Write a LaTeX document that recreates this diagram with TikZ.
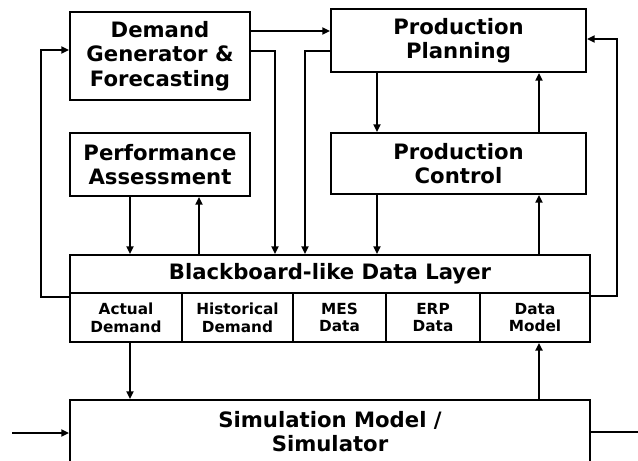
\documentclass[tikz,border=0pt]{standalone}
\usepackage{fontspec}
\setmainfont{DejaVu Sans}
\usetikzlibrary{arrows.meta}
\begin{document}
\begin{tikzpicture}[x=1pt,y=-1pt,
 box/.style={draw,line width=2.2pt,rectangle,inner sep=0pt,align=center,font=\bfseries\fontsize{21.2}{24.5}\selectfont},
 cell/.style={draw,line width=2pt,rectangle,inner sep=0pt,align=center,font=\bfseries\fontsize{15.3}{17.8}\selectfont},
 arr/.style={line width=1.7pt,-{Triangle[length=7.5pt,width=7pt]}},
 ln/.style={line width=1.7pt}]
\useasboundingbox (0,0) rectangle (638,461);
\fill[white] (0,0) rectangle (638,461);
% nodes
\node[box,minimum width=180pt,minimum height=88pt] (Demand) at (160,56) {Demand\\Generator \&\\Forecasting};
\node[box,minimum width=180pt,minimum height=63pt] (Perf) at (160,164.5) {Performance\\Assessment};
\node[box,minimum width=255pt,minimum height=63pt] (PP) at (458.5,40.5) {Production\\Planning};
\node[box,minimum width=255pt,minimum height=61pt] (PC) at (458.5,163.5) {Production\\Control};
\node[box,minimum width=520pt,minimum height=38pt] (BB) at (330,274) {Blackboard-like Data Layer};
\node[cell,minimum width=112pt,minimum height=49pt] (c1) at (126,317.5) {Actual\\Demand};
\node[cell,minimum width=111pt,minimum height=49pt] (c2) at (237.5,317.5) {Historical\\Demand};
\node[cell,minimum width=93pt,minimum height=49pt] (c3) at (339.5,317.5) {MES\\Data};
\node[cell,minimum width=94pt,minimum height=49pt] (c4) at (433,317.5) {ERP\\Data};
\node[cell,minimum width=110pt,minimum height=49pt] (c5) at (535,317.5) {Data\\Model};
\node[box,minimum width=520pt,minimum height=63pt] (Sim) at (330,431.5) {Simulation Model /\\Simulator};
% helper coordinates
\coordinate (y31) at (0,31);
\coordinate (y51) at (0,51);
\coordinate (y50) at (0,50);
\coordinate (y39) at (0,39);
\coordinate (y297) at (0,297);
\coordinate (y296) at (0,296);
\coordinate (x275) at (275,0);
\coordinate (x305) at (305,0);
\coordinate (x130) at (130,0);
\coordinate (x199) at (199,0);
\coordinate (x377) at (377,0);
\coordinate (x539) at (539,0);
\coordinate (in) at (12,433);
\coordinate (out) at (640,432);
% connectors
\draw[arr] (Demand.east |- y31) -- (PP.west |- y31);
\draw[arr] (Demand.east |- y51) -| (BB.north -| x275);
\draw[arr] (PP.west |- y51) -| (BB.north -| x305);
\draw[arr] (c1.west |- y297) -- ++(-28,0) |- (Demand.west |- y50);
\draw[arr] (Perf.south -| x130) -- (BB.north -| x130);
\draw[arr] (BB.north -| x199) -- (Perf.south -| x199);
\draw[arr] (PP.south -| x377) -- (PC.north -| x377);
\draw[arr] (PC.north -| x539) -- (PP.south -| x539);
\draw[arr] (PC.south -| x377) -- (BB.north -| x377);
\draw[arr] (BB.north -| x539) -- (PC.south -| x539);
\draw[arr] (c5.east |- y296) -- ++(26,0) |- (PP.east |- y39);
\draw[arr] (c1.south -| x130) -- (Sim.north -| x130);
\draw[arr] (Sim.north -| x539) -- (c5.south -| x539);
\draw[arr] (in) -- (Sim.west |- in);
\draw[ln] (Sim.east |- out) -- (out);
\end{tikzpicture}
\end{document}
